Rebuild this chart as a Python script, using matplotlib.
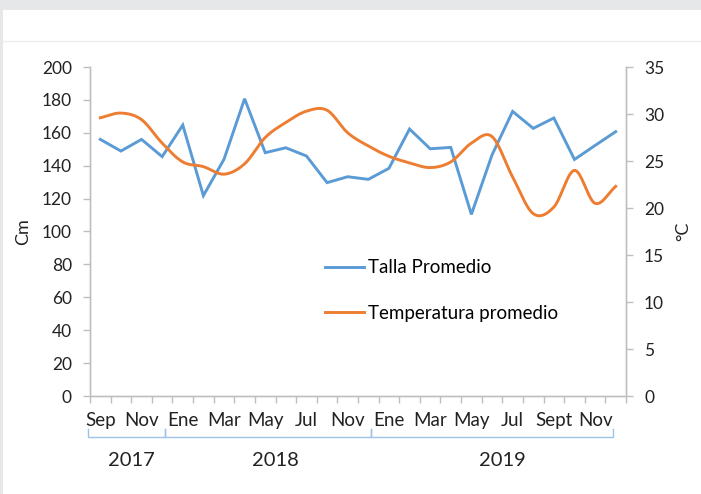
import numpy as np
import matplotlib.pyplot as plt
from matplotlib.patches import Rectangle
from matplotlib.lines import Line2D

# Monthly categories grouped by year
years = ['2017', '2018', '2019']
months_2017 = ['Sep', 'Oct', 'Nov', 'Dic']
months_2018 = ['Ene', 'Feb', 'Mar', 'Abr', 'May', 'Jun', 'Jul', 'Sep', 'Nov', 'Dic']
months_2019 = ['Ene', 'Feb', 'Mar', 'Abr', 'May', 'Jun', 'Jul', 'Ago', 'Sept', 'Oct', 'Nov', 'Dic']
month_groups = [months_2017, months_2018, months_2019]

# Average height (cm) and average temperature (C)
talla = [156.0, 148.9, 156.0, 145.5, 164.7, 121.8, 143.9, 180.7, 147.9, 150.9,
         145.9, 129.7, 133.3, 131.7, 138.4, 162.3, 150.3, 151.1, 110.4, 146.5,
         173.0, 162.7, 169.0, 143.8, 152.3, 160.7]
temperatura = [29.6, 30.1, 29.4, 26.9, 24.9, 24.4, 23.6, 24.7, 27.5, 29.1,
               30.3, 30.4, 28.0, 26.6, 25.5, 24.8, 24.3, 24.9, 26.9, 27.6,
               23.3, 19.4, 20.1, 24.0, 20.5, 22.3]

BLUE = '#5b9bd5'
ORANGE = '#ed7d31'
GREY = '#bfbfbf'
TEXT = '#222222'
FONT = 'Lato'


def smooth_curve(x, y, steps=20):
    """ Catmull-Rom curve through the points, like a smoothed office chart line """
    x = np.asarray(x, float)
    y = np.asarray(y, float)
    px = np.concatenate([[2 * x[0] - x[1]], x, [2 * x[-1] - x[-2]]])
    py = np.concatenate([[2 * y[0] - y[1]], y, [2 * y[-1] - y[-2]]])
    t = np.linspace(0, 1, steps, endpoint=False)
    xs, ys = [], []
    for i in range(1, len(px) - 2):
        for p, out in ((px, xs), (py, ys)):
            p0, p1, p2, p3 = p[i - 1], p[i], p[i + 1], p[i + 2]
            out.append(0.5 * (2 * p1 + (-p0 + p2) * t
                              + (2 * p0 - 5 * p1 + 4 * p2 - p3) * t ** 2
                              + (-p0 + 3 * p1 - 3 * p2 + p3) * t ** 3))
    xs.append([x[-1]])
    ys.append([y[-1]])
    return np.concatenate(xs), np.concatenate(ys)


plt.rcParams['font.family'] = [FONT, 'DejaVu Sans']

fig = plt.figure(figsize=(7.01, 4.94), dpi=100)
W, H = 701, 494

# page frame: grey band on top, thin strip on the left, faint rule
fig.patches.append(Rectangle((0, 1 - 10 / H), 1, 10 / H, transform=fig.transFigure,
                             facecolor='#e6e7e9', edgecolor='none', zorder=0))
fig.patches.append(Rectangle((0, 0), 3 / W, 1, transform=fig.transFigure,
                             facecolor='#e6e7e9', edgecolor='none', zorder=0))
fig.add_artist(Line2D([3 / W, 1], [1 - 41 / H] * 2, transform=fig.transFigure,
                      color='#ececec', lw=1))

ax = fig.add_axes([90 / W, 1 - 396 / H, 536 / W, 329 / H])
ax2 = ax.twinx()

n = len(talla)
x = np.arange(n)

ax.plot(x, talla, color=BLUE, lw=2.1, solid_joinstyle='miter', zorder=3)
sx, sy = smooth_curve(x, temperatura)
ax2.plot(sx, sy, color=ORANGE, lw=2.1, zorder=3)

ax.set_xlim(-0.5, n - 0.5)
ax.set_ylim(0, 200)
ax2.set_ylim(0, 35)
ax.set_yticks(np.arange(0, 201, 20))
ax2.set_yticks(np.arange(0, 36, 5))

for a in (ax, ax2):
    a.spines['top'].set_visible(False)
    for s in ('left', 'right', 'bottom'):
        a.spines[s].set_color(GREY)
        a.spines[s].set_linewidth(1)
    a.tick_params(axis='y', colors=GREY, labelcolor=TEXT, labelsize=12.5,
                  length=5, width=1, pad=8)

ax.set_ylabel('Cm', fontsize=13, color=TEXT, labelpad=8)
ax2.set_ylabel('°C', fontsize=13, color=TEXT, rotation=90, labelpad=8)

# month ticks on category boundaries, labels every other month
ax.set_xticks(np.arange(-0.5, n, 1))
ax.set_xticklabels([])
ax.tick_params(axis='x', colors=GREY, length=5, width=1)
all_months = [m for g in month_groups for m in g]
for i, m in enumerate(all_months):
    if i % 2 == 0:
        ax.text(i, -0.05, m, transform=ax.get_xaxis_transform(), ha='center', va='top',
                fontsize=13.5, color=TEXT)

# year brackets under the month labels
bracket_col = '#9dc3e6'
trans = ax.get_xaxis_transform()
start = 0
edges = []
for g in month_groups:
    edges.append((start, start + len(g) - 1))
    start += len(g)
for k, (first, last) in enumerate(edges):
    left = -0.6 if k == 0 else first - 0.88
    right = last + 0.12 if k < len(edges) - 1 else last - 0.13
    bx = [left, left, right, right]
    by = [-0.1, -0.125, -0.125, -0.1]
    ax.plot(bx, by, transform=trans, color=bracket_col, lw=1, clip_on=False)
    ax.text((first + last) / 2, -0.17, years[k], transform=trans, ha='center', va='top',
            fontsize=14.5, color=TEXT)

handles = [Line2D([], [], color=BLUE, lw=2.1), Line2D([], [], color=ORANGE, lw=2.1)]
ax.legend(handles, ['Talla Promedio', 'Temperatura promedio'], loc='upper left',
          bbox_to_anchor=(0.438, 0.415), frameon=False, fontsize=13.5,
          handlelength=2.1, handletextpad=0.2, labelspacing=1.5, borderpad=0,
          borderaxespad=0)

fig.savefig('out.png', dpi=100)
